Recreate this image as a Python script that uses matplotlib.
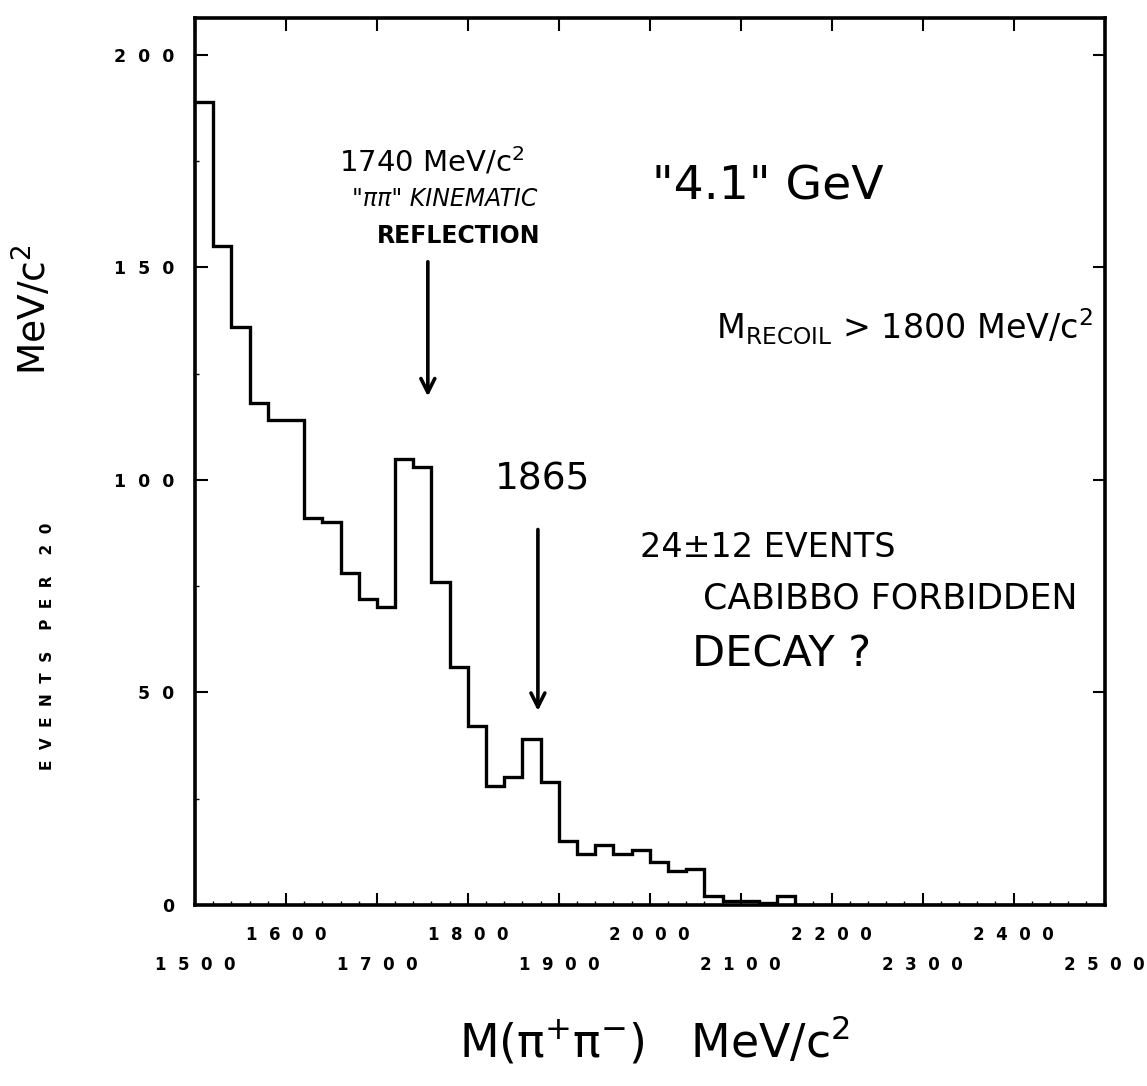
"""
Recreation of a hand-annotated pi+pi- invariant mass histogram (SLAC style).
"""
import numpy as np
import matplotlib
matplotlib.use("Agg")
import matplotlib.pyplot as plt
from matplotlib.ticker import MultipleLocator

# ── Data ──────────────────────────────────────────────────────────────────────
BIN_START = 1500          # MeV/c^2
BIN_WIDTH = 20            # MeV/c^2
COUNTS = [189, 155, 136, 118, 114, 114, 91, 90, 78, 72,
          70, 105, 103, 76, 56, 42, 28, 30, 39, 29,
          15, 12, 14, 12, 13, 10, 8, 8.5, 2, 1,
          1, 0.5, 2, 0, 0, 0, 0, 0, 0, 0,
          0, 0, 0, 0, 0, 0, 0, 0, 0, 0]

X_TICKS = [1500, 1600, 1700, 1800, 1900, 2000, 2100, 2200, 2300, 2400, 2500]
Y_TICKS = [0, 50, 100, 150, 200]

INK = "black"
HAND = "DejaVu Sans"


def spaced(v, gap="  "):
    return gap.join(str(v))


def main():
    edges = BIN_START + BIN_WIDTH * np.arange(len(COUNTS) + 1)

    fig = plt.figure(figsize=(11.47, 10.86), dpi=100)
    ax = fig.add_axes([0.170, 0.1667, 0.793, 0.8167])

    ax.stairs(COUNTS, edges, color=INK, linewidth=2.4, baseline=None)

    ax.set_xlim(1500, 2500)
    ax.set_ylim(0, 208.7)

    for sp in ax.spines.values():
        sp.set_linewidth(2.6)

    # ticks: inward on all sides, staggered x labels
    ax.set_xticks(X_TICKS)
    xlabels = [spaced(v) if (v // 100) % 2 == 0 else "\n" + spaced(v)
               for v in X_TICKS]
    ax.set_xticklabels(xlabels, fontsize=12, fontweight="bold", linespacing=1.9)
    ax.set_yticks(Y_TICKS)
    ax.set_yticklabels([spaced(v) for v in Y_TICKS], fontsize=12.5, fontweight="bold")
    ax.xaxis.set_minor_locator(MultipleLocator(20))
    ax.yaxis.set_minor_locator(MultipleLocator(25))
    ax.tick_params(which="major", direction="in", length=9, width=1.5,
                   top=True, right=True, pad=15)
    ax.tick_params(which="minor", direction="in", length=3, width=1.0,
                   top=False, right=False)

    # axis labels
    fig.text(0.029, 0.715, "MeV/c$^{2}$", rotation=90, fontsize=27,
             family=HAND, ha="center", va="center")
    fig.text(0.041, 0.405, "E  V  E  N  T  S    P  E  R    2  0", rotation=90,
             fontsize=11, fontweight="bold", ha="center", va="center")
    fig.text(0.571, 0.042, "M(π$^{+}$π$^{-}$)   MeV/c$^{2}$", fontsize=33,
             family=HAND, ha="center", va="center")

    # annotations
    txt = dict(family=HAND, color=INK, ha="center", va="center")
    ax.text(1760, 175, "1740 MeV/c$^{2}$", fontsize=21, **txt)
    ax.text(1774, 166, "\"ππ\" KINEMATIC", fontsize=17, style="italic", **txt)
    ax.text(1790, 157.5, "REFLECTION", fontsize=17, fontweight="bold", **txt)
    ax.annotate("", xy=(1756, 119), xytext=(1756, 152),
                arrowprops=dict(arrowstyle="->,head_length=1.0,head_width=0.5",
                                lw=2.6, color=INK))

    ax.text(2130, 169, "\"4.1\" GeV", fontsize=34, **txt)
    ax.text(2280, 136, "M$_{\\mathregular{RECOIL}}$ > 1800 MeV/c$^{2}$",
            fontsize=24, **txt)

    ax.text(1882, 100, "1865", fontsize=27, **txt)
    ax.annotate("", xy=(1877, 45), xytext=(1877, 89),
                arrowprops=dict(arrowstyle="->,head_length=1.0,head_width=0.5",
                                lw=2.6, color=INK))

    ax.text(2130, 84, "24±12 EVENTS", fontsize=24, **txt)
    ax.text(2264, 72, "CABIBBO FORBIDDEN", fontsize=25, **txt)
    ax.text(2145, 59, "DECAY ?", fontsize=31, **txt)

    fig.savefig("out.png", dpi=100)
    plt.close(fig)


if __name__ == "__main__":
    main()
